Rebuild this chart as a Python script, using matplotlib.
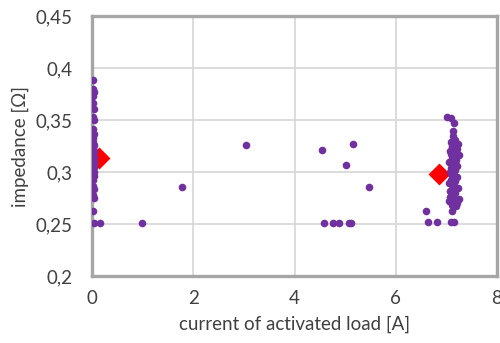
import matplotlib
matplotlib.use("Agg")
import matplotlib.pyplot as plt
from matplotlib.ticker import FixedLocator, FuncFormatter

plt.rcParams['font.family'] = ['Lato', 'DejaVu Sans']

# measured points (current [A], impedance [Ohm])
left_x = [0.02, 0.02, 0.03, 0.02, 0.02, 0.03, 0.02, 0.03, 0.02, 0.03,
          0.02, 0.03, 0.02, 0.03, 0.02, 0.03, 0.02, 0.03, 0.02, 0.03,
          0.02, 0.03, 0.02, 0.03, 0.02, 0.03, 0.02, 0.03, 0.02, 0.03,
          0.02, 0.02]
left_y = [0.389, 0.380, 0.377, 0.373, 0.366, 0.361, 0.353, 0.350, 0.341, 0.337,
          0.329, 0.326, 0.323, 0.320, 0.318, 0.315, 0.313, 0.310, 0.308, 0.305,
          0.303, 0.300, 0.298, 0.296, 0.287, 0.284, 0.278, 0.275, 0.263, 0.251,
          0.333, 0.292]

mid_x = [0.16, 0.99, 1.78, 3.05, 4.55, 5.15, 5.02, 5.47, 4.58, 4.76, 4.88, 5.08, 5.11]
mid_y = [0.251, 0.251, 0.286, 0.326, 0.321, 0.327, 0.307, 0.286, 0.251, 0.251, 0.251, 0.251, 0.251]

right_x = [7.01, 7.09, 7.15, 7.14, 7.10, 7.18, 7.22, 7.12, 7.20, 7.08, 7.16, 7.24,
           7.11, 7.19, 7.06, 7.14, 7.21, 7.09, 7.17, 7.07, 7.13, 7.20, 7.10, 7.05,
           7.15, 7.22, 7.08, 7.18, 7.12, 7.24, 7.06, 7.14, 7.19, 6.59, 7.12,
           6.63, 6.82, 7.09, 7.15,
           7.13, 7.17, 7.11, 7.15, 7.09, 7.13, 7.17, 7.11, 7.15, 7.10, 7.14,
           7.18, 7.12, 7.16, 7.10, 7.14, 7.08, 7.16, 7.20, 7.12]
right_y = [0.353, 0.352, 0.347, 0.340, 0.329, 0.329, 0.327, 0.324, 0.322, 0.320,
           0.318, 0.316, 0.314, 0.312, 0.310, 0.308, 0.306, 0.304, 0.302, 0.300,
           0.297, 0.295, 0.292, 0.290, 0.287, 0.285, 0.282, 0.280, 0.277, 0.274,
           0.272, 0.270, 0.267, 0.263, 0.263, 0.252, 0.252, 0.252, 0.252,
           0.335, 0.331, 0.326, 0.321, 0.317, 0.313, 0.309, 0.305, 0.301, 0.298,
           0.294, 0.291, 0.288, 0.284, 0.281, 0.278, 0.276, 0.273, 0.270, 0.268]

mean_x = [0.14, 6.85]
mean_y = [0.314, 0.298]

x_ticks = [0, 2, 4, 6, 8]
y_ticks = [0.2, 0.25, 0.3, 0.35, 0.4, 0.45]

fig = plt.figure(figsize=(5.0, 3.43), dpi=100)
ax = fig.add_axes([0.184, 0.195, 0.810, 0.758])

purple = '#7030A0'
ax.scatter(left_x, left_y, s=30, color=purple, zorder=3, linewidths=0)
ax.scatter(mid_x, mid_y, s=30, color=purple, zorder=3, linewidths=0)
ax.scatter(right_x, right_y, s=30, color=purple, zorder=3, linewidths=0)
ax.scatter(mean_x, mean_y, s=125, marker='D', color='#FF0000', zorder=2, linewidths=0)

ax.set_xlim(0, 8)
ax.set_ylim(0.2, 0.45)
ax.xaxis.set_major_locator(FixedLocator(x_ticks))
ax.yaxis.set_major_locator(FixedLocator(y_ticks))
ax.yaxis.set_major_formatter(FuncFormatter(lambda v, p: ('%g' % round(v, 2)).replace('.', ',')))
ax.xaxis.set_major_formatter(FuncFormatter(lambda v, p: '%g' % v))

ax.grid(True, color='#D9D9D9', linewidth=1.3, zorder=0)
ax.set_axisbelow(True)
for sp in ax.spines.values():
    sp.set_color('#A6A6A6')
    sp.set_linewidth(2.4)
    sp.set_zorder(1)
ax.tick_params(length=0, labelsize=13.5, colors='#404040')
ax.tick_params(axis='y', pad=14)
ax.tick_params(axis='x', pad=10)
ax.set_xlabel('current of activated load [A]', fontsize=13.5, color='#404040', labelpad=6)
ax.set_ylabel('impedance [Ω]', fontsize=13.5, color='#404040', labelpad=5)

fig.savefig('out.png', dpi=100)
